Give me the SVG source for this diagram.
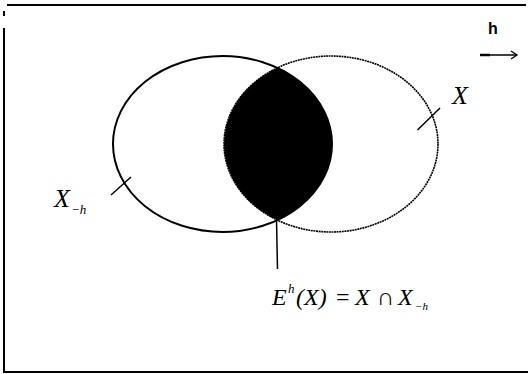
<svg xmlns="http://www.w3.org/2000/svg" width="528" height="374" viewBox="0 0 528 374">
<style>
.frame{stroke:#000;stroke-width:2;fill:none}
.ell{fill:none;stroke:#000}
.line{stroke:#000;stroke-width:1.5;fill:none}
.math{font-family:"Liberation Serif",serif;font-style:italic;fill:#000}
.sans{font-family:"Liberation Sans",sans-serif;font-weight:bold;fill:#000}
</style>
<defs>
<clipPath id="clipLeft"><ellipse cx="222.5" cy="144" rx="109.5" ry="88"/></clipPath>
<marker id="open" markerWidth="10" markerHeight="10" refX="8" refY="5" orient="auto" markerUnits="userSpaceOnUse">
<path d="M2,1 L8,5 L2,9" fill="none" stroke="#000" stroke-width="1.3"/>
</marker>
</defs>
<rect width="528" height="374" fill="#fff"/>
<g id="frame">
<path class="frame" d="M7,5 H526"/>
<path class="frame" d="M4,28 V372 H528"/>
<path class="frame" d="M4,11 V16"/>
</g>
<g id="lens">
<ellipse cx="331" cy="144" rx="107" ry="88" fill="#000" clip-path="url(#clipLeft)"/>
</g>
<g id="X-h">
<ellipse class="ell" cx="222.5" cy="144" rx="109.5" ry="88" stroke-width="2"/>
<text class="math" x="54" y="207" font-size="26">X<tspan font-size="13" x="71" y="214">−h</tspan></text>
</g>
<g id="X">
<ellipse class="ell" cx="331" cy="144" rx="107" ry="88" stroke-width="1.6" stroke-dasharray="2 0.6"/>
<text class="math" x="452" y="104" font-size="26">X</text>
</g>
<g id="h">
<text class="sans" x="488" y="34" font-size="16">h</text>
</g>
<g id="connectors">
<line class="line" x1="111" y1="195" x2="131" y2="177"/>
<line class="line" x1="417.5" y1="130" x2="440" y2="108"/>
<line class="line" x1="276.5" y1="220" x2="277.5" y2="269"/>
<line class="line" x1="480" y1="55" x2="517" y2="55" marker-end="url(#open)"/>
<line x1="480" y1="55" x2="490" y2="55" stroke="#000" stroke-width="2.5"/>
</g>
<g id="formula">
<text class="math" font-size="24"><tspan x="272" y="305">E</tspan><tspan font-size="13" x="288" y="293">h</tspan><tspan x="296" y="305">(X)</tspan><tspan x="336" y="305" font-style="normal">=</tspan><tspan x="355" y="305">X</tspan><tspan x="377" y="305" font-style="normal">∩</tspan><tspan x="398" y="305">X</tspan><tspan font-size="11" x="415" y="310">−h</tspan></text>
</g>
</svg>
